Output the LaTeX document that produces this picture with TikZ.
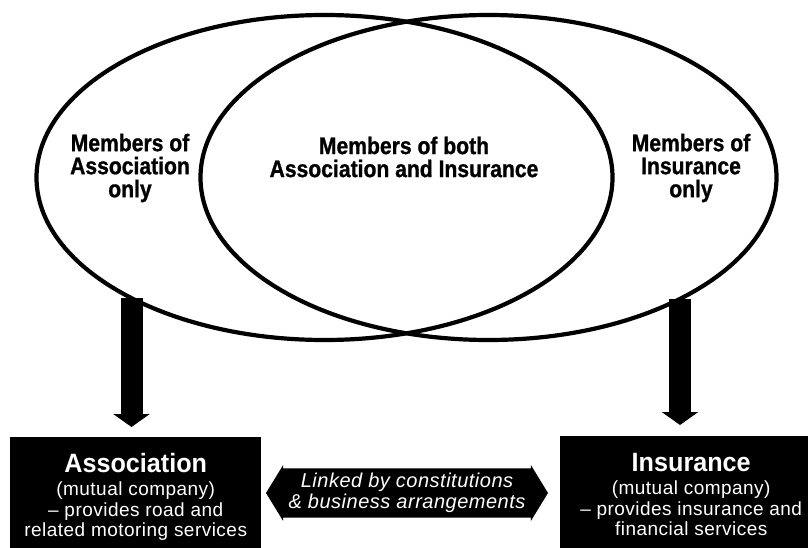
\documentclass[tikz,border=0pt]{standalone}
\usepackage{fontspec}
\setmainfont{Liberation Sans}
\newfontfamily\tagfont[FakeStretch=0.88,FakeBold=1]{Liberation Sans}
\newfontfamily\titlefont[FakeStretch=0.95]{Liberation Sans}
\newfontfamily\boxfont[LetterSpace=2.5]{Liberation Sans}
\usetikzlibrary{positioning,calc,shapes.geometric,shapes.arrows,arrows.meta}

\tikzset{
  member/.style = {draw, ellipse, line width=4.2pt, minimum width=576pt,
    minimum height=325pt, inner sep=0pt},
  memlabel/.style = {align=center, font=\tagfont\bfseries\fontsize{24}{23}\selectfont},
  company/.style = {fill=black, minimum height=125pt, inner sep=0pt},
  companytext/.style = {align=center, text=white, inner sep=0pt,
    font=\boxfont\fontsize{19}{20.5}\selectfont},
  bigdown/.style = {line width=22pt, -{Triangle[width=36pt,length=13pt]}},
}

\begin{document}
\begin{tikzpicture}[x=1pt, y=1pt]
    \useasboundingbox (0,0) rectangle (808,547);
    \node[member] (assoc) at (324.5,369.5) {};
    \node[member] (insur) at (488.5,369.5) {};
    \node[memlabel] (aonly) at (130,379) {Members of\\Association\\only};
    \node[memlabel] (both) at (404,390) {Members of both\\Association and Insurance};
    \node[memlabel] (ionly) at (691,379) {Members of\\Insurance\\only};

    \node[company, minimum width=251pt, anchor=north west] (abox) at (10,110) {};
    \node[company, minimum width=262pt, anchor=north west] (ibox) at (560,111) {};
    \node[companytext, below=16pt of abox.north] (atext)
      {{\titlefont\bfseries\fontsize{26.5}{28}\selectfont Association}\\[3pt]
       (mutual company)\\– provides road and\\related motoring services};
    \node[companytext, below=17pt of ibox.north] (itext)
      {{\titlefont\bfseries\fontsize{26.5}{28}\selectfont Insurance}\\[3pt]
       (mutual company)\\– provides insurance and\\financial services};

    \coordinate (adrop) at ($(assoc.center) + (-193,-120.5)$);
    \coordinate (idrop) at ($(insur.center) + (191.5,-121.4)$);
    \draw[bigdown, shorten >=10pt] (adrop) -- (adrop |- abox.north);
    \draw[bigdown, shorten >=11pt] (idrop) -- (idrop |- ibox.north);

    \node[double arrow, fill=black, text=white, double arrow head extend=3pt,
      double arrow tip angle=117, minimum height=282pt, minimum width=56pt,
      inner sep=2pt, align=center,
      font=\boxfont\itshape\fontsize{20}{20.5}\selectfont] (link) at (407,54)
      {Linked by constitutions\\\& business arrangements};
\end{tikzpicture}
\end{document}
